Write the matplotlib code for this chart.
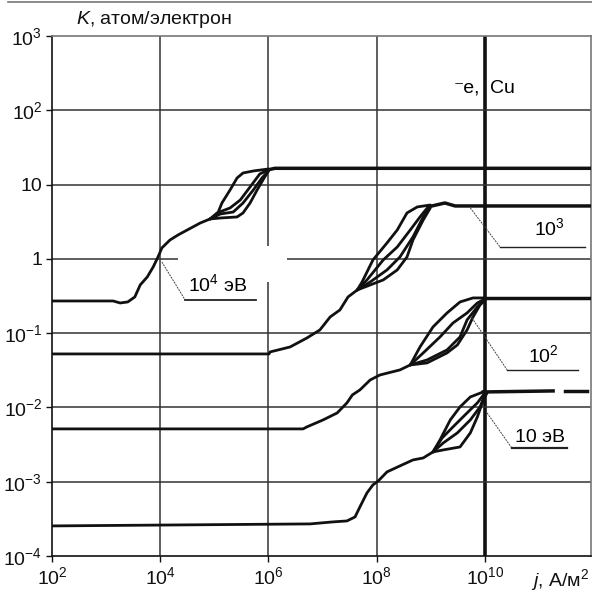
import numpy as np
import matplotlib.pyplot as plt
from matplotlib.lines import Line2D
from matplotlib.patches import Rectangle

plt.rcParams['font.family'] = ['Liberation Sans', 'DejaVu Sans']
plt.rcParams['mathtext.fontset'] = 'custom'
plt.rcParams['mathtext.rm'] = 'Liberation Sans'
plt.rcParams['mathtext.it'] = 'Liberation Sans:italic'

# all curve values are log10(j) / log10(K)

# 10^4 eV
a_x = [2.00, 3.13, 3.26, 3.40, 3.53, 3.63, 3.76, 3.87, 3.96, 4.03, 4.18, 4.33, 4.50, 4.74, 4.92]
a_y = [-0.567, -0.567, -0.594, -0.580, -0.513, -0.351, -0.244, -0.109, 0.027, 0.147, 0.254, 0.322, 0.389, 0.483, 0.537]
a_br = [
    ([5.05, 5.14, 5.29, 5.42, 5.53, 5.72, 6.00], [0.591, 0.752, 0.927, 1.089, 1.156, 1.183, 1.210]),
    ([5.05, 5.29, 5.48, 5.66, 5.84, 6.00], [0.618, 0.685, 0.793, 0.968, 1.143, 1.197]),
    ([5.11, 5.35, 5.53, 5.72, 5.88, 6.00], [0.604, 0.631, 0.752, 0.927, 1.089, 1.183]),
    ([5.11, 5.42, 5.53, 5.66, 5.79, 5.92, 6.00], [0.550, 0.564, 0.618, 0.752, 0.927, 1.089, 1.183]),
]
a_px = [6.00, 6.12, 11.96]
a_py = [1.200, 1.219, 1.219]

# 10^3 eV
b_x = [2.00, 6.01, 6.03, 6.40, 6.71, 6.95, 7.14, 7.32, 7.47, 7.64]
b_y = [-1.280, -1.280, -1.253, -1.186, -1.065, -0.957, -0.782, -0.688, -0.513, -0.419]
b_br = [
    ([7.73, 7.93, 8.19, 8.38, 8.56, 8.75, 8.99], [-0.311, -0.015, 0.214, 0.389, 0.618, 0.699, 0.725]),
    ([7.82, 8.12, 8.38, 8.62, 8.80, 8.95], [-0.284, -0.015, 0.160, 0.389, 0.564, 0.699]),
    ([7.88, 8.19, 8.43, 8.67, 8.86, 8.99], [-0.311, -0.149, 0.026, 0.295, 0.564, 0.699]),
    ([7.88, 8.12, 8.38, 8.56, 8.67, 8.86, 8.99], [-0.351, -0.284, -0.149, 0.026, 0.254, 0.524, 0.685]),
]
b_px = [8.99, 9.02, 9.26, 9.45, 11.96]
b_py = [0.712, 0.712, 0.752, 0.712, 0.712]

# 10^2 eV
c_x = [2.00, 6.64, 6.71, 7.01, 7.27, 7.45, 7.55, 7.69, 7.88, 8.06, 8.43, 8.62]
c_y = [-2.289, -2.289, -2.262, -2.168, -2.074, -1.939, -1.832, -1.764, -1.630, -1.563, -1.495, -1.428]
c_br = [
    ([8.80, 9.04, 9.30, 9.54, 9.78, 10.00], [-1.186, -0.917, -0.728, -0.580, -0.526, -0.526]),
    ([8.86, 9.17, 9.41, 9.67, 9.86, 10.00], [-1.266, -1.051, -0.863, -0.728, -0.594, -0.540]),
    ([8.93, 9.30, 9.54, 9.67, 9.86, 10.00], [-1.361, -1.226, -1.051, -0.822, -0.647, -0.553]),
    ([8.93, 9.30, 9.49, 9.67, 9.78, 9.91, 10.00], [-1.401, -1.266, -1.159, -0.957, -0.782, -0.620, -0.553]),
]
c_px = [10.00, 11.96]
c_py = [-0.526, -0.526]

# 10 eV
d_x = [2.00, 6.77, 7.19, 7.45, 7.60, 7.69, 7.82, 7.93, 8.03, 8.19, 8.43, 8.67, 8.86, 9.04]
d_y = [-3.595, -3.568, -3.541, -3.528, -3.474, -3.339, -3.151, -3.043, -2.989, -2.868, -2.787, -2.707, -2.680, -2.599]
d_br = [
    ([9.17, 9.36, 9.54, 9.73, 9.97], [-2.437, -2.168, -1.993, -1.859, -1.791]),
    ([9.21, 9.41, 9.67, 9.86, 10.00], [-2.410, -2.262, -2.074, -1.939, -1.805]),
    ([9.23, 9.49, 9.73, 9.91, 10.00], [-2.478, -2.343, -2.168, -1.993, -1.832]),
    ([9.23, 9.54, 9.73, 9.86, 9.97, 10.04], [-2.572, -2.532, -2.343, -2.128, -1.899, -1.805]),
]
d_px = [9.97, 10.04, 11.26]
d_py = [-1.791, -1.791, -1.778]
d_dash_x = [11.48, 11.89]
d_dash_y = [-1.778, -1.778]

x_ticks = [1e2, 1e4, 1e6, 1e8, 1e10]
x_labels = ['10$^{2}$', '10$^{4}$', '10$^{6}$', '10$^{8}$', '10$^{10}$']
y_ticks = [1e-4, 1e-3, 1e-2, 1e-1, 1, 10, 1e2, 1e3]
y_labels = ['10$^{-4}$', '10$^{-3}$', '10$^{-2}$', '10$^{-1}$', '1', '10', '10$^{2}$', '10$^{3}$']


def pw(v):
    return 10 ** np.asarray(v, dtype=float)


fig = plt.figure(figsize=(5.92, 5.95), dpi=100)
ax = fig.add_axes([52 / 592, 1 - 556 / 595, 539 / 592, 520 / 595])
ax.set_xscale('log')
ax.set_yscale('log')
ax.set_xlim(1e2, pw(11.96))
ax.set_ylim(1e-4, 1e3)
ax.minorticks_off()

# grid
for xv in x_ticks[1:4]:
    ax.axvline(xv, color='#333333', lw=1.1, zorder=1)
ax.axvline(1e10, color='#111111', lw=2.6, zorder=1)
for yv in y_ticks[1:-1]:
    ax.axhline(yv, color='#333333', lw=1.1, zorder=1)

# blank patch behind the 10^6 / 1 crossing
ax.add_patch(Rectangle((pw(4.33), pw(-0.311)), pw(6.35) - pw(4.33), pw(0.174) - pw(-0.311),
                       facecolor='white', edgecolor='none', zorder=1.5))

curve_kw = dict(color='#111111', lw=2.0, zorder=3, solid_capstyle='round', solid_joinstyle='round')
for tx, ty, brs, px, py in [(a_x, a_y, a_br, a_px, a_py), (b_x, b_y, b_br, b_px, b_py),
                            (c_x, c_y, c_br, c_px, c_py), (d_x, d_y, d_br, d_px, d_py)]:
    ax.plot(pw(tx), pw(ty), **curve_kw)
    for bx, by in brs:
        ax.plot(pw([tx[-1]] + bx), pw([ty[-1]] + by), **curve_kw)
    ax.plot(pw(px), pw(py), color='#111111', lw=2.5, zorder=3)
ax.plot(pw(d_dash_x), pw(d_dash_y), color='#111111', lw=2.5, zorder=3)

# labels with leader lines
leader_kw = dict(color='#444444', lw=0.7, ls=(0, (2, 1)), zorder=4)
labels = [
    ('10$^{4}$ эВ', (4.03, -0.042), (4.46, -0.553), 5.77, (5.07, -0.338), 1.3),
    ('10$^{3}$', (9.73, 0.685), (10.28, 0.160), 11.85, (11.20, 0.416), 1.0),
    ('10$^{2}$', (9.76, -0.795), (10.41, -1.495), 11.72, (11.08, -1.293), 1.0),
    ('10 эВ', (10.04, -2.074), (10.50, -2.550), 11.52, (11.02, -2.410), 1.6),
]
for txt, p0, p1, xe, pt, ulw in labels:
    ax.plot(pw([p0[0], p1[0]]), pw([p0[1], p1[1]]), **leader_kw)
    ax.plot(pw([p1[0], xe]), pw([p1[1], p1[1]]), color='#222222', lw=ulw, zorder=4)
    ax.text(pw(pt[0]), pw(pt[1]), txt, fontsize=14, ha='center', va='center', zorder=5)

ax.text(pw(9.91), pw(2.233), '⁻e,', fontsize=14, ha='right', va='baseline',
        family=['Liberation Sans', 'DejaVu Sans'])
ax.text(pw(10.10), pw(2.233), 'Cu', fontsize=14, ha='left', va='baseline')

# axes styling
ax.set_xticks(x_ticks)
ax.set_xticklabels(x_labels)
ax.set_yticks(y_ticks)
ax.set_yticklabels(y_labels)
ax.tick_params(direction='out', length=4, width=1, labelsize=14, pad=3, colors='#111111')
for s in ['left', 'bottom']:
    ax.spines[s].set_color('#111111')
    ax.spines[s].set_linewidth(1.2)
for s in ['top', 'right']:
    ax.spines[s].set_color('#777777')
    ax.spines[s].set_linewidth(1.2)

fig.text(76 / 592, 1 - 20 / 595, '$K$, атом/электрон', fontsize=14, ha='left', va='center', color='#111111')
fig.text(560 / 592, 1 - 580 / 595, '$j$, А/м$^{2}$', fontsize=14, ha='center', va='center', color='#111111')
fig.add_artist(Line2D([8 / 592, 1], [1 - 2 / 595, 1 - 2 / 595], color='#777777', lw=1.2))

fig.savefig('out.png', dpi=100)
